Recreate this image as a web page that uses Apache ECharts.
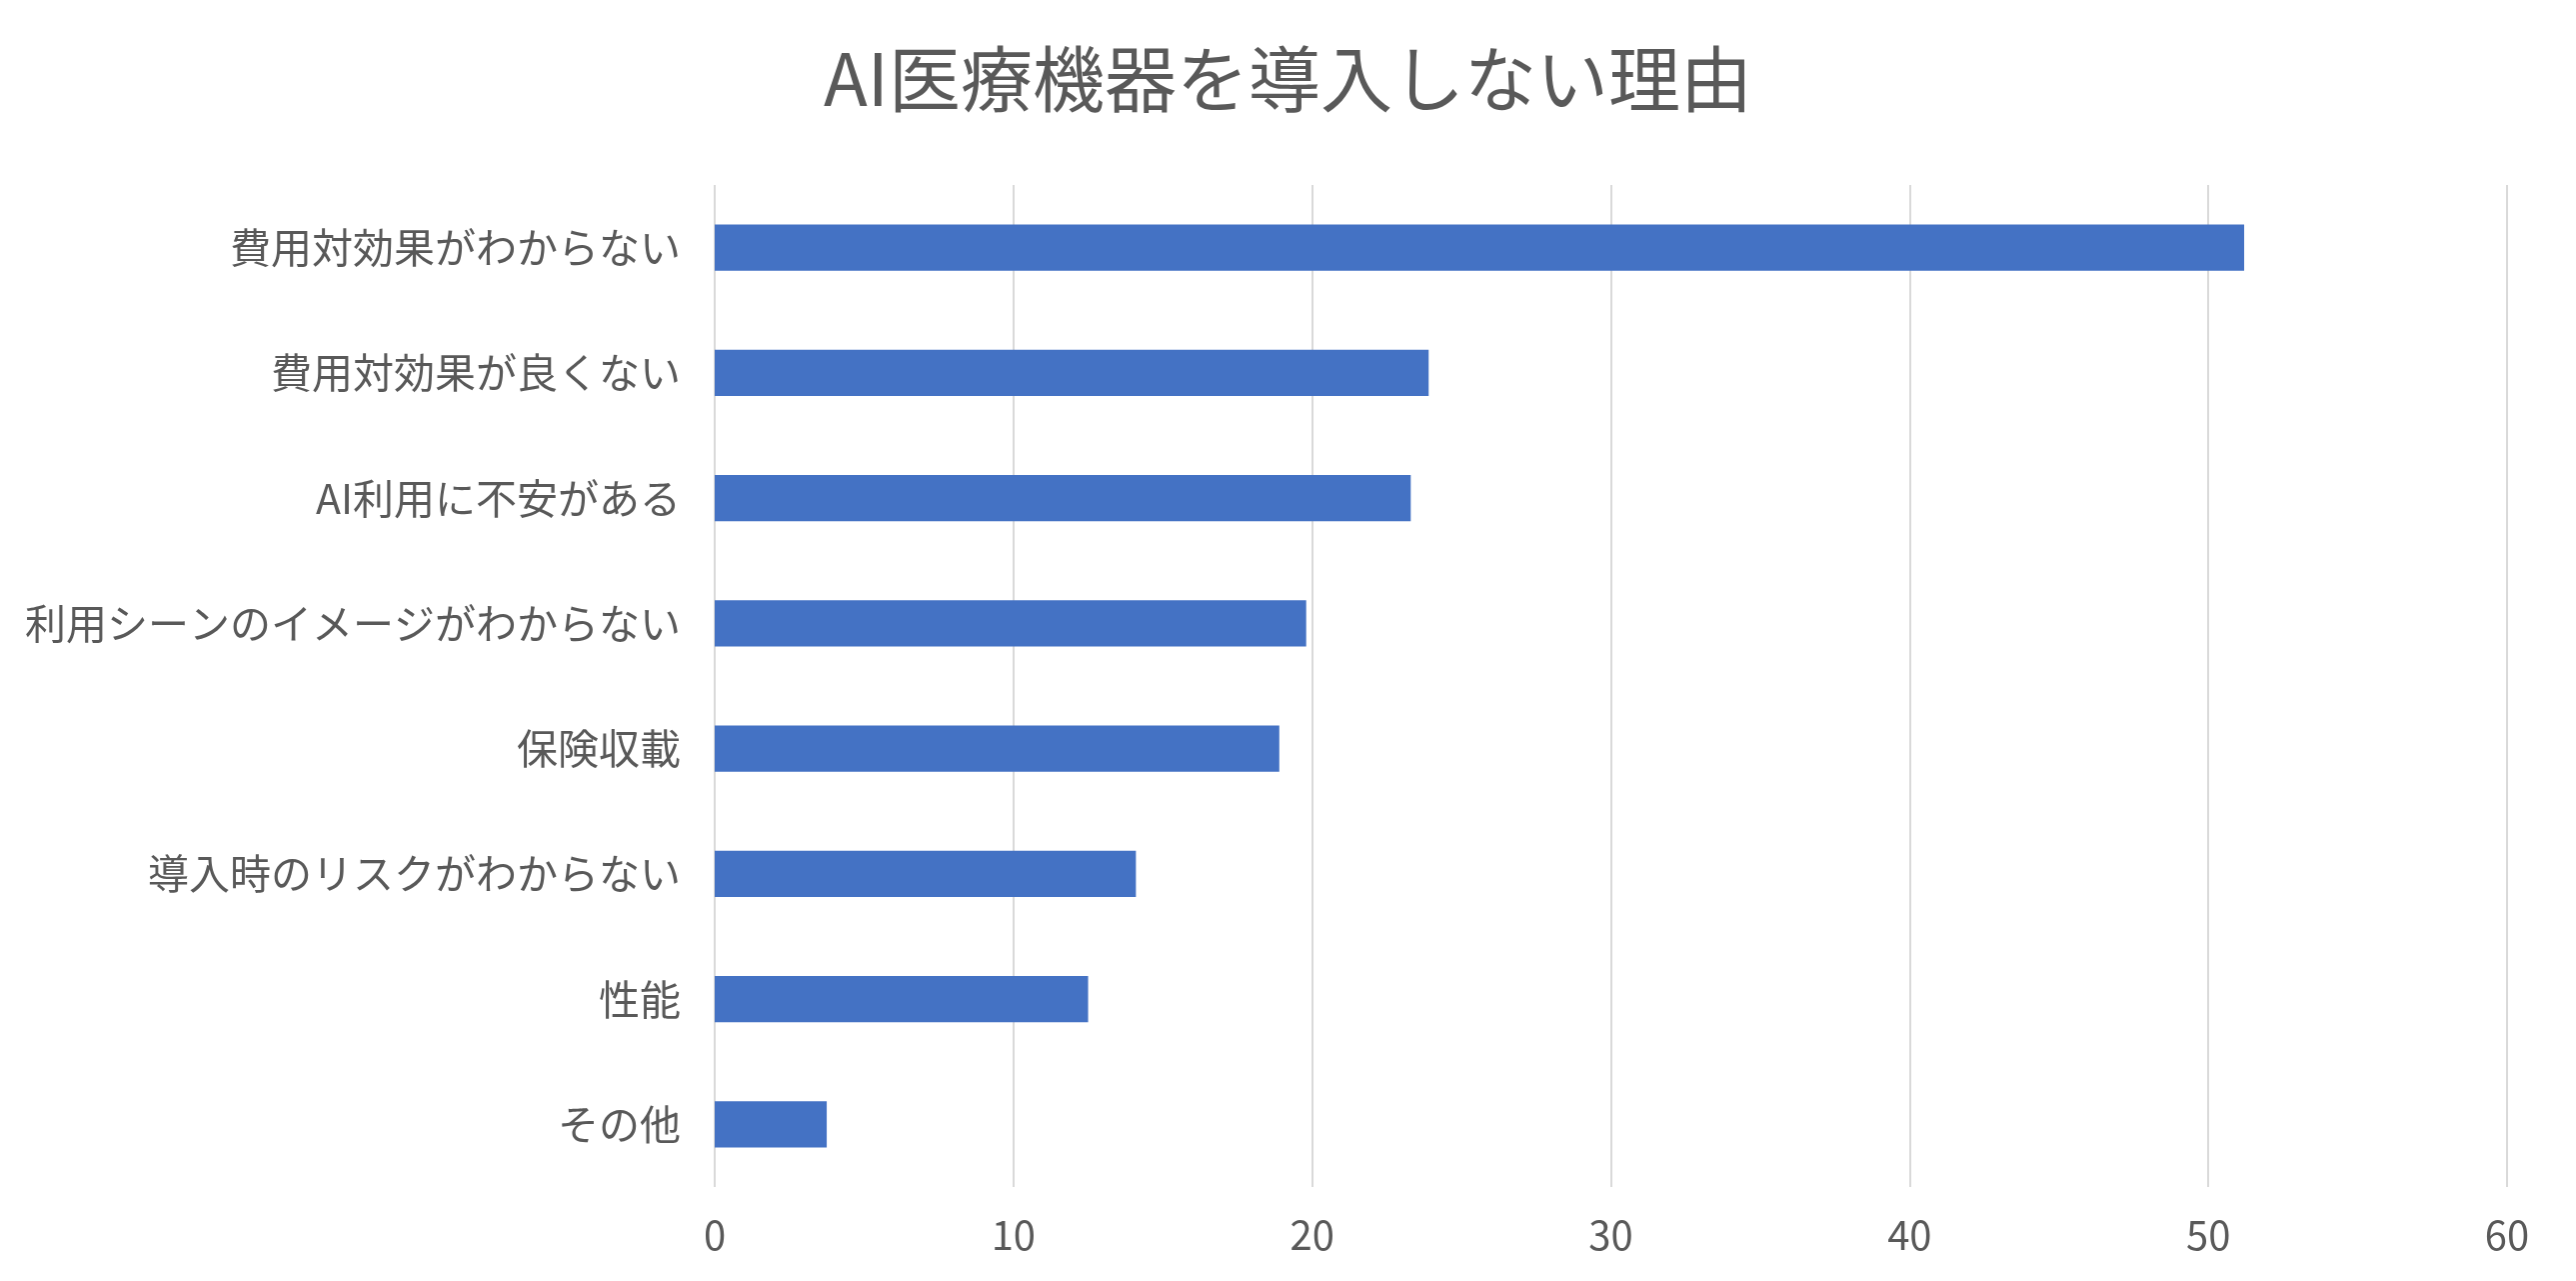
<!DOCTYPE html>
<html>
<head>
<meta charset="utf-8">
<script src="https://cdn.jsdelivr.net/npm/echarts@6/dist/echarts.min.js"></script>
<style>
html, body { margin: 0; padding: 0; background: #fff; }
#container0 { width: 2577px; height: 1281px; }
</style>
</head>
<body>
<div id="container0"></div>
<script>
// AI医療機器を導入しない理由
var categories = ['費用対効果がわからない', '費用対効果が良くない', 'AI利用に不安がある', '利用シーンのイメージがわからない', '保険収載', '導入時のリスクがわからない', '性能', 'その他'];
var values = [51.2, 23.9, 23.3, 19.8, 18.9, 14.1, 12.5, 3.75];
var xTicks = [0, 10, 20, 30, 40, 50, 60];

var font = '"Noto Sans CJK JP", "Noto Sans", sans-serif';

var opt_chart_0 = {
    backgroundColor: '#fff',
    animation: false,
    title: {
        text: 'AI医療機器を導入しない理由',
        left: 'center',
        top: 38,
        textStyle: {
            fontFamily: font,
            fontSize: 72,
            fontWeight: 'normal',
            color: '#595959'
        }
    },
    grid: {
        left: 715,
        right: 69,
        top: 185,
        bottom: 94
    },
    xAxis: {
        type: 'value',
        min: xTicks[0],
        max: xTicks[xTicks.length - 1],
        interval: 10,
        axisLine: { show: false },
        axisTick: { show: false },
        axisLabel: {
            margin: 28,
            fontFamily: font,
            fontSize: 40,
            color: '#595959'
        },
        splitLine: {
            lineStyle: { color: '#d9d9d9', width: 2 }
        }
    },
    yAxis: {
        type: 'category',
        inverse: true,
        data: categories,
        axisLine: { show: false },
        axisTick: { show: false },
        axisLabel: {
            margin: 34,
            fontFamily: font,
            fontSize: 41,
            color: '#595959'
        }
    },
    series: [
        {
            type: 'bar',
            data: values,
            barCategoryGap: '63%',
            itemStyle: { color: '#4472c4' }
        }
    ]
};

var chart_0 = echarts.init(document.getElementById('container0'));
chart_0.setOption(opt_chart_0);
</script>
</body>
</html>
